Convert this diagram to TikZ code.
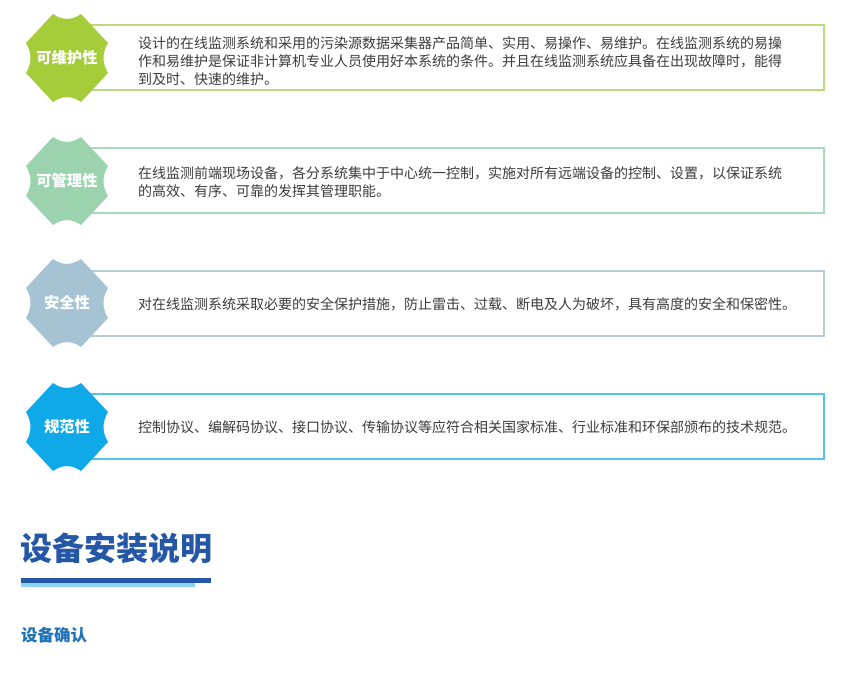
\documentclass[tikz,border=0pt]{standalone}
\usepackage{fontspec}
\setmainfont{Noto Sans CJK SC}
\newfontfamily\cjk{Noto Sans CJK SC}
\definecolor{gA}{HTML}{A5CD39}\definecolor{gAb}{HTML}{BCD97E}
\definecolor{gB}{HTML}{9CD3AF}\definecolor{gBb}{HTML}{A8DBBC}
\definecolor{gC}{HTML}{A6C3D4}\definecolor{gCb}{HTML}{B5CDDB}
\definecolor{gD}{HTML}{0FA8E8}\definecolor{gDb}{HTML}{52C3F0}
\definecolor{txt}{HTML}{3C3C3C}
\definecolor{ttl}{HTML}{2557A7}
\definecolor{ttlb}{HTML}{8ED3F5}
\definecolor{sub}{HTML}{1E72B8}
\tikzset{
  card/.style={line width=1.3pt},
  body/.style={anchor=west, inner sep=0pt, align=left, text=txt,
    font=\cjk\fontsize{14}{18}\selectfont},
  badgelabel/.style={inner sep=0pt, text=white, font=\cjk\bfseries\fontsize{15.3}{18}\selectfont},
  badge/.pic={
    \fill[#1] (-14,-44) .. controls (-5,-37.5) and (5,-37.5) .. (14,-44)
      -- (41,-15) .. controls (35,-5) and (35,5) .. (41,15)
      -- (14,44) .. controls (5,37.5) and (-5,37.5) .. (-14,44)
      -- (-41,15) .. controls (-35,5) and (-35,-5) .. (-41,-15) -- cycle;
  }
}
\begin{document}
\begin{tikzpicture}[x=1pt,y=-1pt]
\useasboundingbox[fill=white] (0,0) rectangle (851,684);
% cards
\draw[card,gAb] (80,25) rectangle (824,90);
\draw[card,gBb] (80,148) rectangle (824,213);
\draw[card,gCb] (80,271) rectangle (824,336);
\draw[card,gDb] (80,394) rectangle (824,459);
% badges
\pic at (67,58) {badge=gA};
\pic at (67,181) {badge=gB};
\pic at (67,303) {badge=gC};
\pic at (67,427) {badge=gD};
\node[badgelabel] (l1) at (67,58) {可维护性};
\node[badgelabel] (l2) at (67,181) {可管理性};
\node[badgelabel] (l3) at (67,303) {安全性};
\node[badgelabel] (l4) at (67,427) {规范性};
% texts
\node[body] (t1) at (138,61) {设计的在线监测系统和采用的污染源数据采集器产品简单、实用、易操作、易维护。在线监测系统的易操\\作和易维护是保证非计算机专业人员使用好本系统的条件。并且在线监测系统应具备在出现故障时，能得\\到及时、快速的维护。};
\node[body] (t2) at (138,182) {在线监测前端现场设备，各分系统集中于中心统一控制，实施对所有远端设备的控制、设置，以保证系统\\的高效、有序、可靠的发挥其管理职能。};
\node[body] (t3) at (138,304) {对在线监测系统采取必要的安全保护措施，防止雷击、过载、断电及人为破坏，具有高度的安全和保密性。};
\node[body] (t4) at (138,427) {控制协议、编解码协议、接口协议、传输协议等应符合相关国家标准、行业标准和环保部颁布的技术规范。};
% title
\node[anchor=west, inner sep=0pt, text=ttl, font=\cjk\bfseries\fontsize{32}{36}\selectfont] (title) at (20,548) {设备安装说明};
\fill[ttl] (21,578) rectangle (211,583);
\fill[ttlb] (21,583) rectangle (195,587);
\node[anchor=west, inner sep=0pt, text=sub, font=\cjk\bfseries\fontsize{16.5}{20}\selectfont] (subt) at (21,635) {设备确认};
\end{tikzpicture}
\end{document}
